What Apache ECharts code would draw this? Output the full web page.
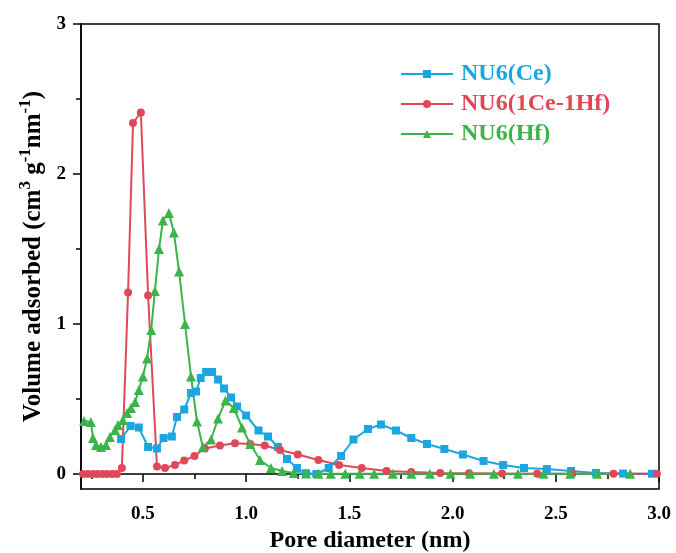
<!DOCTYPE html>
<html>
<head>
<meta charset="utf-8">
<script src="https://cdn.jsdelivr.net/npm/echarts@6/dist/echarts.min.js"></script>
<style>
  html, body { margin: 0; padding: 0; background: #fff; }
  #chart { width: 676px; height: 553px; }
</style>
</head>
<body>
<div id="chart"></div>
<script>
// NU6(Ce)
const ceX = [0.394, 0.44, 0.48, 0.525, 0.568, 0.60, 0.64, 0.665, 0.70, 0.733, 0.757, 0.78, 0.806, 0.835, 0.864, 0.893, 0.927, 0.956, 1.0, 1.06, 1.106, 1.154, 1.198, 1.246, 1.29, 1.34, 1.40, 1.46, 1.52, 1.59, 1.653, 1.726, 1.80, 1.876, 1.96, 2.05, 2.15, 2.245, 2.346, 2.457, 2.574, 2.695, 2.826, 2.966];
const ceY = [0.233, 0.32, 0.31, 0.18, 0.17, 0.24, 0.25, 0.38, 0.43, 0.54, 0.55, 0.64, 0.68, 0.68, 0.63, 0.57, 0.51, 0.45, 0.39, 0.29, 0.25, 0.18, 0.10, 0.04, 0.005, 0, 0.04, 0.12, 0.23, 0.30, 0.33, 0.29, 0.24, 0.20, 0.167, 0.13, 0.087, 0.06, 0.04, 0.033, 0.02, 0.007, 0.003, 0.002];

// NU6(1Ce-1Hf)
const mixX = [0.21, 0.233, 0.257, 0.28, 0.304, 0.327, 0.351, 0.374, 0.398, 0.428, 0.452, 0.49, 0.525, 0.568, 0.607, 0.655, 0.70, 0.75, 0.80, 0.873, 0.946, 1.02, 1.09, 1.164, 1.25, 1.35, 1.45, 1.56, 1.68, 1.80, 1.94, 2.08, 2.24, 2.41, 2.58, 2.78, 2.99];
const mixY = [0, 0, 0, 0, 0, 0, 0, 0, 0.04, 1.21, 2.34, 2.41, 1.19, 0.05, 0.04, 0.06, 0.09, 0.12, 0.17, 0.19, 0.205, 0.20, 0.19, 0.16, 0.13, 0.093, 0.06, 0.04, 0.02, 0.013, 0.007, 0.005, 0.003, 0.002, 0.002, 0.002, 0.002];

// NU6(Hf)
const hfX = [0.215, 0.248, 0.258, 0.273, 0.297, 0.321, 0.34, 0.365, 0.379, 0.403, 0.423, 0.442, 0.462, 0.48, 0.50, 0.52, 0.54, 0.558, 0.578, 0.597, 0.626, 0.65, 0.675, 0.704, 0.733, 0.762, 0.79, 0.83, 0.864, 0.90, 0.94, 0.98, 1.02, 1.067, 1.12, 1.174, 1.23, 1.29, 1.35, 1.41, 1.48, 1.55, 1.62, 1.71, 1.80, 1.89, 1.99, 2.085, 2.20, 2.317, 2.44, 2.57, 2.70, 2.86];
const hfY = [0.353, 0.347, 0.24, 0.193, 0.18, 0.193, 0.247, 0.293, 0.327, 0.36, 0.407, 0.44, 0.48, 0.56, 0.65, 0.77, 0.96, 1.22, 1.5, 1.69, 1.74, 1.61, 1.35, 1.0, 0.65, 0.35, 0.18, 0.23, 0.37, 0.49, 0.44, 0.31, 0.2, 0.093, 0.04, 0.02, 0.007, 0.003, 0.002, 0.002, 0.002, 0.002, 0.002, 0.002, 0.002, 0.002, 0.002, 0.002, 0.002, 0.002, 0.002, 0.002, 0.002, 0.002];

const seriesNames = ['NU6(Ce)', 'NU6(1Ce-1Hf)', 'NU6(Hf)'];
const xTicks = [0.5, 1.0, 1.5, 2.0, 2.5, 3.0];
const xMinorTicks = [0.25, 0.75, 1.25, 1.75, 2.25, 2.75];
const yTicks = [0, 1, 2, 3];
const yMinorTicks = [0.5, 1.5, 2.5];

const colors = ['#1aa7e0', '#e0485a', '#3cb44b'];
const font = '"Liberation Serif", "Times New Roman", serif';

function pairs(xs, ys) {
  return xs.map((x, i) => [x, ys[i]]);
}

const chart = echarts.init(document.getElementById('chart'));

const axisLineStyle = { lineStyle: { color: '#000', width: 1.5 } };

const option = {
  animation: false,
  backgroundColor: '#fff',
  grid: {
    left: 81, right: 17, top: 24, bottom: 64,
    outerBoundsMode: 'none',
    containLabel: false,
    show: true, borderColor: '#000', borderWidth: 1.5
  },
  legend: {
    orient: 'vertical',
    left: 400,
    top: 62,
    padding: 0,
    itemWidth: 52,
    itemHeight: 10,
    itemGap: 6,
    textStyle: { fontFamily: font, fontWeight: 'bold', fontSize: 24, lineHeight: 24, padding: [0, 0, 0, 3] },
    data: seriesNames.map((n, i) => ({ name: n, textStyle: { color: colors[i] } }))
  },
  xAxis: [
    {
      type: 'value', min: 0.2, max: 3.0,
      name: 'Pore diameter (nm)',
      nameLocation: 'middle', nameGap: 38,
      nameTextStyle: { fontFamily: font, fontWeight: 'bold', fontSize: 24, color: '#000' },
      axisLine: axisLineStyle,
      axisTick: { show: true, length: 8, customValues: xTicks, lineStyle: { color: '#000', width: 1.5 } },
      axisLabel: {
        customValues: xTicks,
        formatter: v => v.toFixed(1),
        margin: 16,
        fontFamily: font, fontWeight: 'bold', fontSize: 19, color: '#000'
      },
      splitLine: { show: false }
    },
    {
      type: 'value', min: 0.2, max: 3.0, position: 'bottom', gridIndex: 0,
      axisLine: { show: false },
      axisTick: { show: true, length: 5, customValues: xMinorTicks, lineStyle: { color: '#000', width: 1.5 } },
      axisLabel: { show: false, customValues: xMinorTicks },
      splitLine: { show: false }
    }
  ],
  yAxis: [
    {
      type: 'value', min: -0.1, max: 3,
      name: '{a|Volume adsorbed (cm}{s|3}{a| g}{s|-1}{a|nm}{s|-1}{a|)}',
      nameLocation: 'middle', nameGap: 35,
      nameTextStyle: {
        color: '#000',
        rich: {
          a: { fontFamily: font, fontWeight: 'bold', fontSize: 25, color: '#000', lineHeight: 28, verticalAlign: 'bottom' },
          s: { fontFamily: font, fontWeight: 'bold', fontSize: 17, color: '#000', lineHeight: 28, verticalAlign: 'top' }
        }
      },
      axisLine: axisLineStyle,
      axisTick: { show: true, length: 8, customValues: yTicks, lineStyle: { color: '#000', width: 1.5 } },
      axisLabel: {
        customValues: yTicks,
        margin: 15,
        fontFamily: font, fontWeight: 'bold', fontSize: 19, color: '#000'
      },
      splitLine: { show: false }
    },
    {
      type: 'value', min: -0.1, max: 3, position: 'left', gridIndex: 0,
      axisLine: { show: false },
      axisTick: { show: true, length: 5, customValues: yMinorTicks, lineStyle: { color: '#000', width: 1.5 } },
      axisLabel: { show: false, customValues: yMinorTicks },
      splitLine: { show: false }
    }
  ],
  series: [
    {
      name: seriesNames[0], type: 'line', data: pairs(ceX, ceY),
      symbol: 'rect', symbolSize: 8,
      lineStyle: { color: colors[0], width: 2 },
      itemStyle: { color: colors[0] }
    },
    {
      name: seriesNames[1], type: 'line', data: pairs(mixX, mixY),
      symbol: 'circle', symbolSize: 8,
      lineStyle: { color: colors[1], width: 2 },
      itemStyle: { color: colors[1] }
    },
    {
      name: seriesNames[2], type: 'line', data: pairs(hfX, hfY),
      symbol: 'triangle', symbolSize: 10,
      lineStyle: { color: colors[2], width: 2 },
      itemStyle: { color: colors[2] }
    }
  ]
};

chart.setOption(option);
</script>
</body>
</html>
